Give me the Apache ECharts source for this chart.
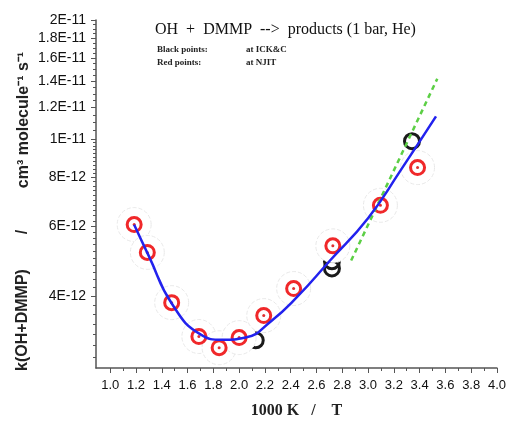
<!DOCTYPE html>
<html>
<head>
<meta charset="utf-8">
<script src="https://cdn.jsdelivr.net/npm/echarts@6/dist/echarts.min.js"></script>
<style>
  html, body { margin: 0; padding: 0; background: #fff; }
  #chart { width: 509px; height: 424px; }
</style>
</head>
<body>
<div id="chart"></div>
<script>
// NJIT points (red)
const redX = [1.186, 1.288, 1.477, 1.688, 1.845, 2.0, 2.191, 2.423, 2.727, 3.096, 3.384];
const redK = [6.07e-12, 5.16e-12, 3.85e-12, 3.16e-12, 2.96e-12, 3.14e-12, 3.57e-12, 4.18e-12, 5.36e-12, 6.79e-12, 8.46e-12];

// ICK&C points (black)
const blackX = [2.129, 2.72, 2.72, 3.341];
const blackK = [3.09e-12, 4.9e-12, 4.7e-12, 9.87e-12];

// blue fit curve
const fitX = [1.186, 1.3, 1.48, 1.7, 1.87, 2.05, 2.25, 2.45, 2.7, 3.0, 3.25, 3.527];
const fitK = [6.06e-12, 5.05e-12, 3.82e-12, 3.2e-12, 3.1e-12, 3.14e-12, 3.46e-12, 3.98e-12, 4.9e-12, 6.3e-12, 8.3e-12, 1.14e-11];

// green dashed line
const lineX = [2.869, 3.537];
const lineK = [4.92e-12, 1.42e-11];

// axes
const xTicks = [1.0, 1.2, 1.4, 1.6, 1.8, 2.0, 2.2, 2.4, 2.6, 2.8, 3.0, 3.2, 3.4, 3.6, 3.8, 4.0];
const xMinorTicks = [1.1, 1.3, 1.5, 1.7, 1.9, 2.1, 2.3, 2.5, 2.7, 2.9, 3.1, 3.3, 3.5, 3.7, 3.9];
const yTickValues = [2e-11, 1.8e-11, 1.6e-11, 1.4e-11, 1.2e-11, 1e-11, 8e-12, 6e-12, 4e-12];
const yTickLabels = ['2E-11', '1.8E-11', '1.6E-11', '1.4E-11', '1.2E-11', '1E-11', '8E-12', '6E-12', '4E-12'];
const xRange = [0.89, 4.0];
const yRange = [2.63e-12, 2e-11];

const lg = v => Math.log10(v);
const pairs = (xs, ks) => xs.map((x, i) => [x, lg(ks[i])]);

const yMinor = [];
for (let i = 28; i < 100; i += 2) yMinor.push(lg(i * 1e-13));
for (let i = 105; i < 200; i += 5) yMinor.push(lg(i * 1e-13));

const chart = echarts.init(document.getElementById('chart'));

const axisCol = '#555';
const yMain = {
  type: 'value', min: lg(yRange[0]), max: lg(yRange[1]), position: 'left',
  splitLine: { show: false },
  axisLine: { show: true, lineStyle: { color: axisCol, width: 1.5 } },
  axisTick: { show: true, length: 5, customValues: yTickValues.map(lg), lineStyle: { color: axisCol } },
  axisLabel: {
    customValues: yTickValues.map(lg), margin: 10, fontFamily: 'Liberation Sans', fontSize: 14, color: '#111',
    formatter: v => {
      const i = yTickValues.findIndex(t => Math.abs(lg(t) - v) < 1e-6);
      return i < 0 ? '' : yTickLabels[i];
    }
  }
};
const yMinorAxis = {
  type: 'value', min: lg(yRange[0]), max: lg(yRange[1]), position: 'left',
  splitLine: { show: false }, axisLine: { show: false }, axisLabel: { show: false },
  axisTick: { show: true, length: 3, customValues: yMinor, lineStyle: { color: axisCol } }
};
const xMain = {
  type: 'value', min: xRange[0], max: xRange[1], position: 'bottom',
  splitLine: { show: false },
  axisLine: { show: true, lineStyle: { color: axisCol, width: 1.5 } },
  axisTick: { show: true, length: 5, customValues: xTicks, lineStyle: { color: axisCol } },
  axisLabel: { customValues: xTicks, margin: 11, fontFamily: 'Liberation Sans', fontSize: 13, color: '#111', formatter: v => v.toFixed(1) },
  name: '1000 K   /    T', nameLocation: 'middle', nameGap: 35,
  nameTextStyle: { fontFamily: 'Liberation Serif', fontWeight: 'bold', fontSize: 16, color: '#222' }
};
const xMinorAxis = {
  type: 'value', min: xRange[0], max: xRange[1], position: 'bottom',
  splitLine: { show: false }, axisLine: { show: false }, axisLabel: { show: false },
  axisTick: { show: true, length: 3, customValues: xMinorTicks, lineStyle: { color: axisCol } }
};

chart.setOption({
  animation: false,
  grid: { left: 96, right: 11, top: 20, bottom: 52 },
  xAxis: [xMain, xMinorAxis],
  yAxis: [yMain, yMinorAxis],
  title: {
    text: 'OH  +  DMMP  -->  products (1 bar, He)', left: 150, top: 17,
    textStyle: { fontFamily: 'Liberation Serif', fontSize: 16, fontWeight: 'normal', color: '#111' }
  },
  graphic: [
    { type: 'text', x: 157, y: 50, style: { text: 'Black points:', font: 'bold 9px "Liberation Serif"', fill: '#222', verticalAlign: 'middle' } },
    { type: 'text', x: 246, y: 50, style: { text: 'at ICK&C', font: 'bold 9px "Liberation Serif"', fill: '#222', verticalAlign: 'middle' } },
    { type: 'text', x: 157, y: 63, style: { text: 'Red points:', font: 'bold 9px "Liberation Serif"', fill: '#222', verticalAlign: 'middle' } },
    { type: 'text', x: 246, y: 63, style: { text: 'at NJIT', font: 'bold 9px "Liberation Serif"', fill: '#222', verticalAlign: 'middle' } },
    { type: 'text', x: 23, y: 320, rotation: Math.PI / 2, style: { text: 'k(OH+DMMP)', font: 'bold 16px "Liberation Sans"', fill: '#222', align: 'center', verticalAlign: 'middle' } },
    { type: 'text', x: 23, y: 232, rotation: Math.PI / 2, style: { text: '/', font: 'bold 16px "Liberation Sans"', fill: '#222', align: 'center', verticalAlign: 'middle' } },
    { type: 'text', x: 24, y: 120, rotation: Math.PI / 2, style: { text: 'cm³ molecule⁻¹ s⁻¹', font: 'bold 16px "Liberation Sans"', fill: '#222', align: 'center', verticalAlign: 'middle' } }
  ],
  series: [
    {
      type: 'scatter', z: 1, data: pairs(blackX, blackK), symbolSize: 15, silent: true,
      itemStyle: { color: 'rgba(0,0,0,0)', borderColor: '#1a1a1a', borderWidth: 3, opacity: 1 }
    },
    {
      type: 'scatter', z: 2, data: pairs(redX, redK), symbolSize: 34, silent: true,
      itemStyle: { color: '#fff', borderColor: '#e8e8e8', borderWidth: 1, borderType: 'dashed', opacity: 1 }
    },
    {
      type: 'scatter', z: 3, data: pairs(redX, redK), symbolSize: 14, silent: true,
      itemStyle: { color: '#fff', borderColor: '#f0282a', borderWidth: 3, opacity: 1 }
    },
    {
      type: 'scatter', z: 4, data: pairs(redX, redK), symbolSize: 3, silent: true,
      itemStyle: { color: '#e03030', opacity: 1 }
    },
    {
      type: 'line', z: 5, data: pairs(lineX, lineK), showSymbol: false, silent: true,
      lineStyle: { color: '#5ccf45', width: 2.5, type: [5, 4] }
    },
    {
      type: 'line', z: 6, data: pairs(fitX, fitK), smooth: 0.5, showSymbol: false, silent: true,
      lineStyle: { color: '#2222ee', width: 2.5 }
    }
  ]
});
</script>
</body>
</html>
